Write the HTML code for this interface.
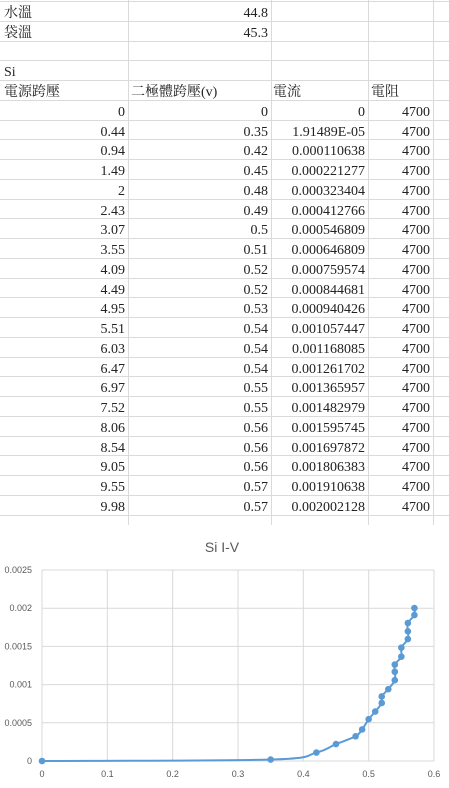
<!DOCTYPE html>
<html><head><meta charset="utf-8"><style>
body{margin:0;width:449px;height:788px;background:#fff;overflow:hidden;position:relative;font-family:"Liberation Sans","Noto Sans CJK TC",sans-serif;}
.c{position:absolute;font-size:14px;color:#222;line-height:20px;white-space:nowrap;font-family:"Liberation Serif","Noto Serif CJK SC",serif;}
.r{text-align:right}
.hl{position:absolute;left:0;width:449px;height:1px;background:#dadada}
.vl{position:absolute;top:0;width:1px;height:525px;background:#dadada}
</style></head><body>
<div id="sheet"></div>
<svg id="chart" width="449" height="788" style="position:absolute;left:0;top:0" xmlns="http://www.w3.org/2000/svg"></svg>
<script>
const voltSrc=[0,0.44,0.94,1.49,2,2.43,3.07,3.55,4.09,4.49,4.95,5.51,6.03,6.47,6.97,7.52,8.06,8.54,9.05,9.55,9.98];
const diodeV=[0,0.35,0.42,0.45,0.48,0.49,0.5,0.51,0.52,0.52,0.53,0.54,0.54,0.54,0.55,0.55,0.56,0.56,0.56,0.57,0.57];
const currentStr=["0","1.91489E-05","0.000110638","0.000221277","0.000323404","0.000412766","0.000546809","0.000646809","0.000759574","0.000844681","0.000940426","0.001057447","0.001168085","0.001261702","0.001365957","0.001482979","0.001595745","0.001697872","0.001806383","0.001910638","0.002002128"];
const current=currentStr.map(Number);
const xTicks=[0,0.1,0.2,0.3,0.4,0.5,0.6];
const yTicks=[0,0.0005,0.001,0.0015,0.002,0.0025];
const yTickLabels=["0","0.0005","0.001","0.0015","0.002","0.0025"];

const sheet=document.getElementById('sheet');
const RH=19.76, T0=1;
const colsX=[128,271,368,433];
for(let i=0;i<=26;i++){const y=Math.round(T0+i*RH);if(y>526)break;const d=document.createElement('div');d.className='hl';d.style.top=y+'px';


sheet.appendChild(d);}
colsX.forEach(x=>{const d=document.createElement('div');d.className='vl';d.style.left=x+'px';


sheet.appendChild(d);});
function cell(row,l,r,text,right,name){const d=document.createElement('div');d.className='c'+(right?' r':'');
d.style.top=(T0+row*RH+3)+'px';d.style.left=l+'px';d.style.width=(r-l)+'px';d.textContent=text;


sheet.appendChild(d);}
cell(0,4,120,'水溫',false,'water-temp-label');cell(0,130,268,'44.8',true,'water-temp-value');
cell(1,4,120,'袋溫',false,'bag-temp-label');cell(1,130,268,'45.3',true,'bag-temp-value');
cell(3,4,120,'Si',false,'si-label');
cell(4,4,127,'電源跨壓',false,'header-source-voltage');
cell(4,131,270,'二極體跨壓(v)',false,'header-diode-voltage');
cell(4,273,367,'電流',false,'header-current');
cell(4,371,432,'電阻',false,'header-resistance');
for(let i=0;i<voltSrc.length;i++){const row=5+i;
cell(row,4,125,String(voltSrc[i]),true,'source-voltage-cell');
cell(row,131,268,String(diodeV[i]),true,'diode-voltage-cell');
cell(row,273,365,currentStr[i],true,'current-cell');
cell(row,371,430,'4700',true,'resistance-cell');}

const svg=document.getElementById('chart');const NS='http://www.w3.org/2000/svg';
const L=42,R=434,TOP=570,BOT=761;
const sx=v=>L+(v/0.6)*(R-L), sy=v=>BOT-(v/0.0025)*(BOT-TOP);
function el(t,a,name){const e=document.createElementNS(NS,t);for(const k in a)e.setAttribute(k,a[k]);


svg.appendChild(e);return e;}
const title=el('text',{x:222,y:552,'text-anchor':'middle','font-size':'14','fill':'#595959','font-family':'Liberation Sans, sans-serif'},'chart-title');title.textContent='Si I-V';
yTicks.forEach((v,i)=>{el('line',{x1:L,x2:R,y1:sy(v),y2:sy(v),stroke:'#d9d9d9','stroke-width':1},'y-gridline');
const t=el('text',{x:32,y:sy(v)+3,'text-anchor':'end','font-size':'9','fill':'#595959','font-family':'Liberation Sans, sans-serif'},'y-tick-label');t.textContent=yTickLabels[i];});
xTicks.forEach(v=>{el('line',{x1:sx(v),x2:sx(v),y1:TOP,y2:BOT,stroke:'#d9d9d9','stroke-width':1},'x-gridline');
const t=el('text',{x:sx(v),y:777,'text-anchor':'middle','font-size':'9','fill':'#595959','font-family':'Liberation Sans, sans-serif'},'x-tick-label');t.textContent=String(v);});
const pts=diodeV.map((v,i)=>[sx(v),sy(current[i])]);
let d='M'+pts[0][0]+','+pts[0][1];
for(let i=0;i<pts.length-1;i++){const p0=pts[Math.max(0,i-1)],p1=pts[i],p2=pts[i+1],p3=pts[Math.min(pts.length-1,i+2)];
const c1=[p1[0]+(p2[0]-p0[0])/6,p1[1]+(p2[1]-p0[1])/6],c2=[p2[0]-(p3[0]-p1[0])/6,p2[1]-(p3[1]-p1[1])/6];
d+=' C'+c1+' '+c2+' '+p2;}
el('path',{d:d,fill:'none',stroke:'#5b9bd5','stroke-width':2},'series-line');
pts.forEach(p=>el('circle',{cx:p[0],cy:p[1],r:3.3,fill:'#5b9bd5'},'data-point'));
</script>
</body></html>
